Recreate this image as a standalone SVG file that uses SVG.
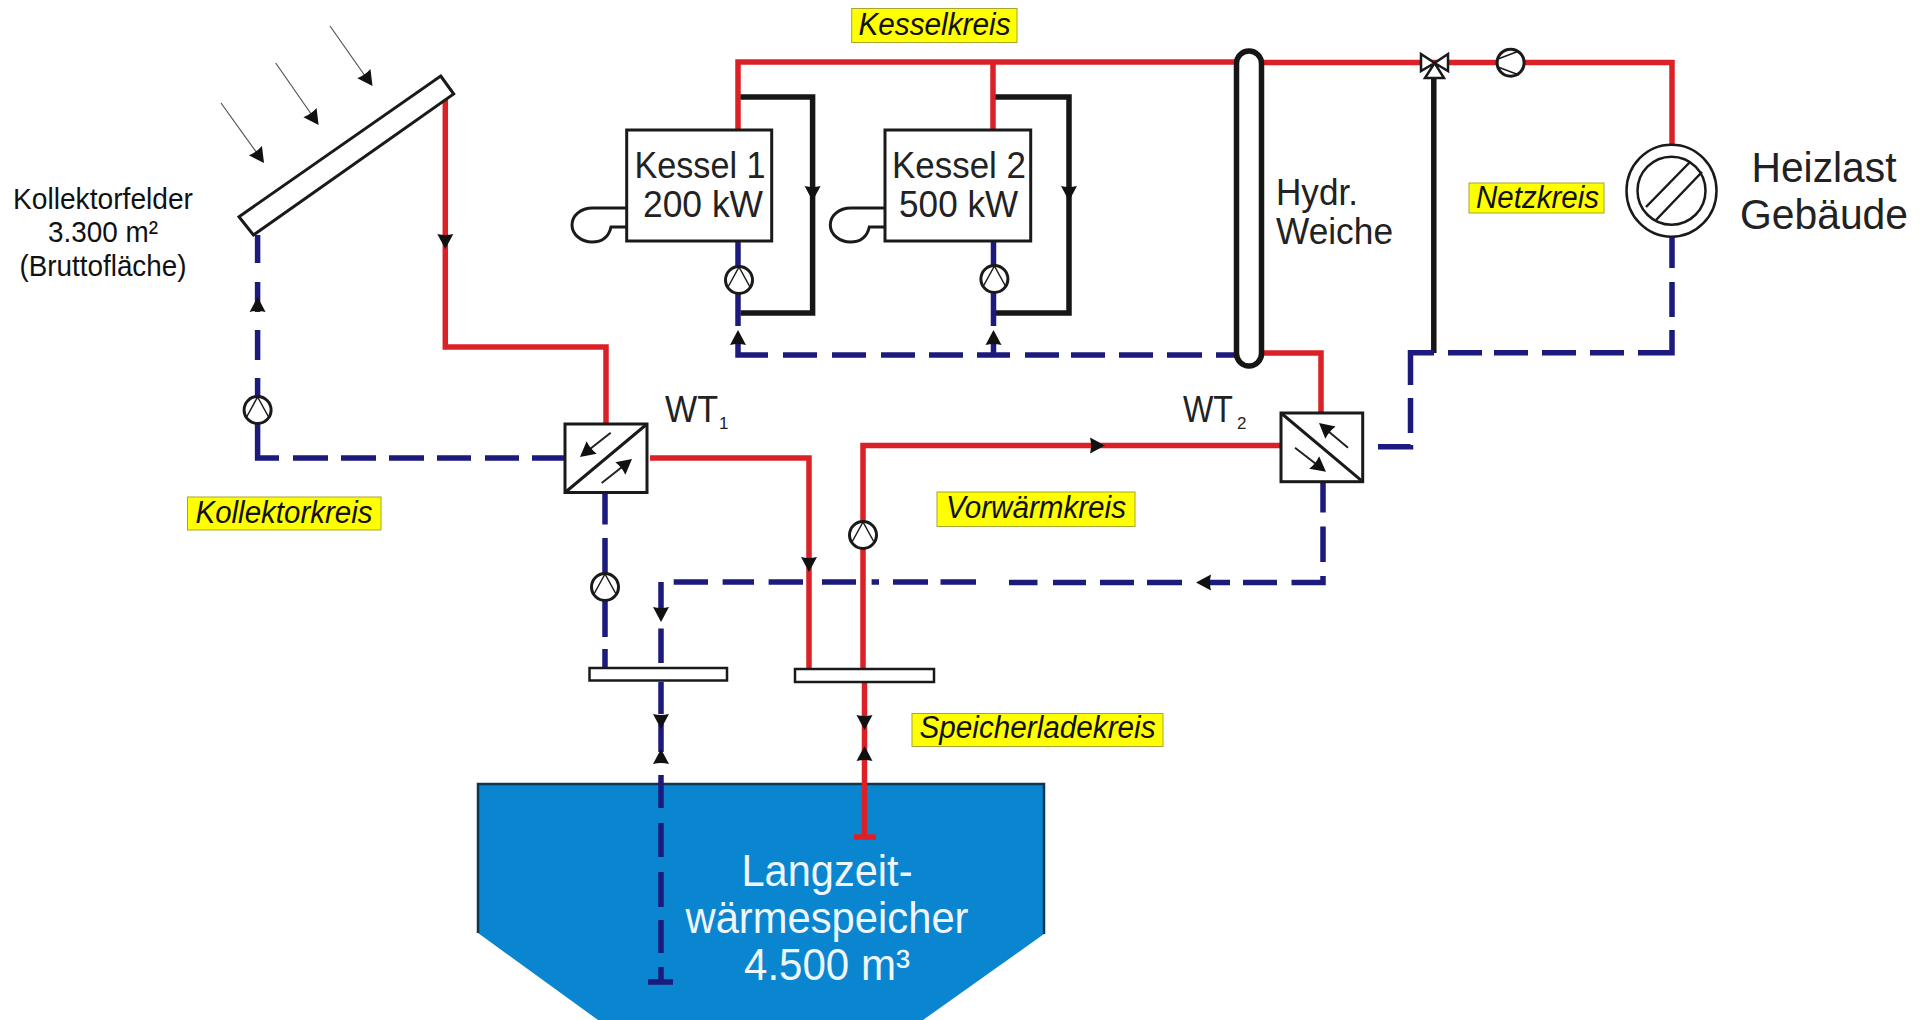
<svg xmlns="http://www.w3.org/2000/svg" xmlns:xlink="http://www.w3.org/1999/xlink" width="1929" height="1020" viewBox="0 0 1929 1020">
<style>
text{font-family:"Liberation Sans",Arial,sans-serif;fill:#222;lengthAdjust:spacingAndGlyphs}
.t{font-size:30px;text-anchor:middle;fill:#111}
.k{font-size:36px;text-anchor:middle}
.h{font-size:43px;text-anchor:middle}
.s{font-size:44px;text-anchor:middle;fill:#eef6fb}
.w{font-size:36px}
.sub{font-size:17px}
.lab{font-size:31px;font-style:italic;text-anchor:middle;fill:#111}
.y{fill:#ffff00;stroke:#a5a530;stroke-width:1}
.red,.blue,.blk{fill:none;stroke-width:5.500;stroke-linejoin:miter}
.red{stroke:#dc2126}
.blue{stroke:#1c1a7c}
.blk{stroke:#161616}
.b{fill:#fff;stroke:#1a1a1a;stroke-width:3}
.n{fill:none;stroke:#1a1a1a;stroke-width:3}
.thin{fill:none;stroke:#555;stroke-width:1.200}
.ah{fill:#111}
</style>
<defs>
<path id="a" class="ah" d="M0 0L-8 -15Q0 -13 8 -15Z"/>
<g id="pump">
<circle r="13.500" class="b"/>
<path class="n" style="stroke-width:1.500" d="M0 -13L-11 7M0 -13L11 7"/>
</g>
</defs>

<g id="tank">
<path d="M478 784H1044V934L923 1020H598L478 933Z" fill="#0a85d0"/>
<path d="M478 933V784H1044V934" fill="none" stroke="#10364f" stroke-width="2.500"/>
<text class="s" x="827" y="886" textLength="171" lengthAdjust="spacingAndGlyphs">Langzeit-</text>
<text class="s" x="827" y="933" textLength="283" lengthAdjust="spacingAndGlyphs">wärmespeicher</text>
<text class="s" x="827" y="980" textLength="166" lengthAdjust="spacingAndGlyphs">4.500 m³</text>
</g>

<g id="connectors">
<path class="blue" d="M1323 482V512.600M1323 526.500V562M1323 576V582.500H1291.500M1277 582.500H1243M1230 582.500H1205M1182 582.500H1147M1134 582.500H1100M1086 582.500H1053M1037.500 582.500H1009M976 582H940.500M928 582H893M879 582H871.600M856 582H822M803 582H768.600M754 582H722.600M708 582H673.700M661 582V608M661 628.500V663"/>
<path class="red" d="M445.300 100V347H606V424"/>
<path class="red" d="M650 458H809V669"/>
<path class="red" d="M863 669V445.500H1281"/>
<path class="red" d="M864.500 682V837M854 837H876"/>
<path class="red" d="M738 130V62H1238M993 130V62"/>
<path class="red" d="M1262 62.500H1672V146"/>
<path class="red" d="M1262 353H1321V413"/>
<path class="blk" d="M740.500 97H812.600V313H740.500"/>
<path class="blk" d="M995.400 97H1069V313H995.400"/>
<path class="blk" d="M1433.800 76V353"/>
<path class="blue" d="M257.600 235V263M257.600 282V312M257.600 330V360M257.600 378V458H279M293 458H328M341 458H376M389 458H424M437 458H471M485 458H519M532 458H565"/>
<path class="blue" d="M738 242V326M993.500 242V326M738 340V355H768M783 355H817M832 355H866M881 355H915M929 355H963M977 355H1010M1025 355H1059M1071 355H1105M1119 355H1153M1167 355H1202M1216 355H1238M993.500 340V355"/>
<path class="blue" d="M1672 237V268M1672 282V317M1672 330V352.700H1638M1624 352.700H1590M1576 352.700H1542M1528 352.700H1494M1482 352.700H1448M1434 352.700H1410.500V385M1410.500 398V433M1410.500 445V446.700H1378"/>
<path class="blue" d="M605 492V524.500M605 538V574M605 601V637M605 649V669"/>
<path class="blue" d="M661 682V714M661 724V752M661 775V808M661 823V857M661 872V907M661 920V953M661 967V982M648 982H673"/>
<g id="arrowheads">
<use xlink:href="#a" href="#a" transform="translate(445.300 249)"/>
<use xlink:href="#a" href="#a" transform="translate(257.600 297) rotate(180)"/>
<use xlink:href="#a" href="#a" transform="translate(812.600 201)"/>
<use xlink:href="#a" href="#a" transform="translate(1069 201)"/>
<use xlink:href="#a" href="#a" transform="translate(738 330) rotate(180)"/>
<use xlink:href="#a" href="#a" transform="translate(993.500 330) rotate(180)"/>
<use xlink:href="#a" href="#a" transform="translate(809 572)"/>
<use xlink:href="#a" href="#a" transform="translate(1105 445.500) rotate(-90)"/>
<use xlink:href="#a" href="#a" transform="translate(1196 582.500) rotate(90)"/>
<use xlink:href="#a" href="#a" transform="translate(661 622)"/>
<use xlink:href="#a" href="#a" transform="translate(661 729)"/>
<use xlink:href="#a" href="#a" transform="translate(661 749) rotate(180)"/>
<use xlink:href="#a" href="#a" transform="translate(864.500 730)"/>
<use xlink:href="#a" href="#a" transform="translate(864.500 746) rotate(180)"/>
</g>
</g>

<g id="sun">
<path class="thin" d="M330 26L370 83M275.700 63L316 121M221 103L262 160"/>
<use xlink:href="#a" href="#a" transform="translate(372.500 86) rotate(-35)"/>
<use xlink:href="#a" href="#a" transform="translate(318.600 125) rotate(-35)"/>
<use xlink:href="#a" href="#a" transform="translate(264 163) rotate(-35)"/>
</g>

<g id="collector">
<path class="b" d="M440.700 76L453.700 94L253.400 235L239 216.700Z"/>
<text class="t" x="103" y="209" textLength="180" lengthAdjust="spacingAndGlyphs">Kollektorfelder</text>
<text class="t" x="103" y="242" textLength="110" lengthAdjust="spacingAndGlyphs">3.300 m²</text>
<text class="t" x="103" y="276" textLength="167" lengthAdjust="spacingAndGlyphs">(Bruttofläche)</text>
</g>

<g id="kessel1">
<path class="n" d="M626.700 208H593C580 208 572 216 572 225C572 235 582 242 592 242C603 242 609 236 611 227H626.700"/>
<rect class="b" x="626.700" y="130" width="145" height="111"/>
<text class="k" x="700" y="178" textLength="131" lengthAdjust="spacingAndGlyphs">Kessel 1</text>
<text class="k" x="703" y="217" textLength="120" lengthAdjust="spacingAndGlyphs">200 kW</text>
<use xlink:href="#pump" href="#pump" transform="translate(739 280)"/>
</g>
<g id="kessel2">
<path class="n" d="M885 208H851.300C838.300 208 830.300 216 830.300 225C830.300 235 840.300 242 850.300 242C861.300 242 867.300 236 869.300 227H885"/>
<rect class="b" x="885" y="130" width="145.700" height="111"/>
<text class="k" x="959" y="178" textLength="134" lengthAdjust="spacingAndGlyphs">Kessel 2</text>
<text class="k" x="958.600" y="217" textLength="119" lengthAdjust="spacingAndGlyphs">500 kW</text>
<use xlink:href="#pump" href="#pump" transform="translate(994.400 279)"/>
</g>

<g id="weiche">
<rect x="1236.500" y="51" width="25" height="315" rx="12.500" fill="#fff" stroke="#161616" stroke-width="5.500"/>
<text class="k" x="1276" y="205" style="text-anchor:start" textLength="82" lengthAdjust="spacingAndGlyphs">Hydr.</text>
<text class="k" x="1276" y="244" style="text-anchor:start" textLength="117" lengthAdjust="spacingAndGlyphs">Weiche</text>
</g>

<g id="valve">
<path class="b" style="stroke-width:2.500" d="M1421 54L1434.600 63L1421 71ZM1448 54L1434.600 63L1448 71ZM1434.600 63L1425 78H1444Z"/>
</g>
<g id="pump-netz">
<circle class="b" cx="1510.600" cy="62.700" r="13.500"/>
<path class="n" style="stroke-width:1.500" d="M1498 59L1519 51M1498 67L1519 75"/>
</g>

<g id="heizlast">
<ellipse class="b" style="stroke-width:2.500" cx="1671.500" cy="190.700" rx="45" ry="46"/>
<circle class="b" style="stroke-width:2.500" cx="1671.500" cy="190.700" r="34"/>
<path class="n" style="stroke-width:2.500" d="M1690 162L1646 207M1702 172L1656 220"/>
<text class="h" x="1824" y="182" textLength="145" lengthAdjust="spacingAndGlyphs">Heizlast</text>
<text class="h" x="1824" y="229" textLength="168" lengthAdjust="spacingAndGlyphs">Gebäude</text>
</g>

<g id="wt1">
<rect class="b" x="565" y="424" width="82" height="68.500"/>
<path class="n" d="M565 492.500L647 424"/>
<path class="thin" style="stroke:#222;stroke-width:2" d="M610.700 432.700L590 449M601.700 483L622 467"/>
<use xlink:href="#a" href="#a" transform="translate(580 457) rotate(51)"/>
<use xlink:href="#a" href="#a" transform="translate(632 459) rotate(231)"/>
<text class="w" x="665" y="422" textLength="53" lengthAdjust="spacingAndGlyphs">WT</text>
<text class="sub" x="719" y="429">1</text>
</g>
<g id="wt2">
<rect class="b" x="1281" y="413" width="81.700" height="68.700"/>
<path class="n" d="M1281 413L1362.700 481.700"/>
<path class="thin" style="stroke:#222;stroke-width:2" d="M1348 447.700L1328 431M1295 447.700L1316 464"/>
<use xlink:href="#a" href="#a" transform="translate(1319 423) rotate(130)"/>
<use xlink:href="#a" href="#a" transform="translate(1326 471.700) rotate(-52)"/>
<text class="w" x="1183" y="422" textLength="50" lengthAdjust="spacingAndGlyphs">WT</text>
<text class="sub" x="1237" y="429">2</text>
</g>

<g id="pumps">
<use xlink:href="#pump" href="#pump" transform="translate(257.600 410)"/>
<use xlink:href="#pump" href="#pump" transform="translate(605 587)"/>
<use xlink:href="#pump" href="#pump" transform="translate(863 535)"/>
</g>

<g id="tee1"><rect class="b" style="stroke-width:2.500" x="589.500" y="668" width="137.500" height="12.500"/></g>
<g id="tee2"><rect class="b" style="stroke-width:2.500" x="795" y="669" width="139" height="13"/></g>

<g id="labels">
<rect class="y" x="851.700" y="8.500" width="165.300" height="34"/>
<text class="lab" x="934.500" y="35" textLength="152" lengthAdjust="spacingAndGlyphs">Kesselkreis</text>
<rect class="y" x="1469" y="183" width="135" height="30"/>
<text class="lab" x="1537.500" y="208" textLength="123" lengthAdjust="spacingAndGlyphs">Netzkreis</text>
<rect class="y" x="187.500" y="497" width="193.500" height="33"/>
<text class="lab" x="284" y="523" textLength="177" lengthAdjust="spacingAndGlyphs">Kollektorkreis</text>
<rect class="y" x="937" y="492" width="198" height="34.500"/>
<text class="lab" x="1036" y="518" textLength="180" lengthAdjust="spacingAndGlyphs">Vorwärmkreis</text>
<rect class="y" x="912" y="713.500" width="251" height="33"/>
<text class="lab" x="1037.500" y="738" textLength="236" lengthAdjust="spacingAndGlyphs">Speicherladekreis</text>
</g>
</svg>
